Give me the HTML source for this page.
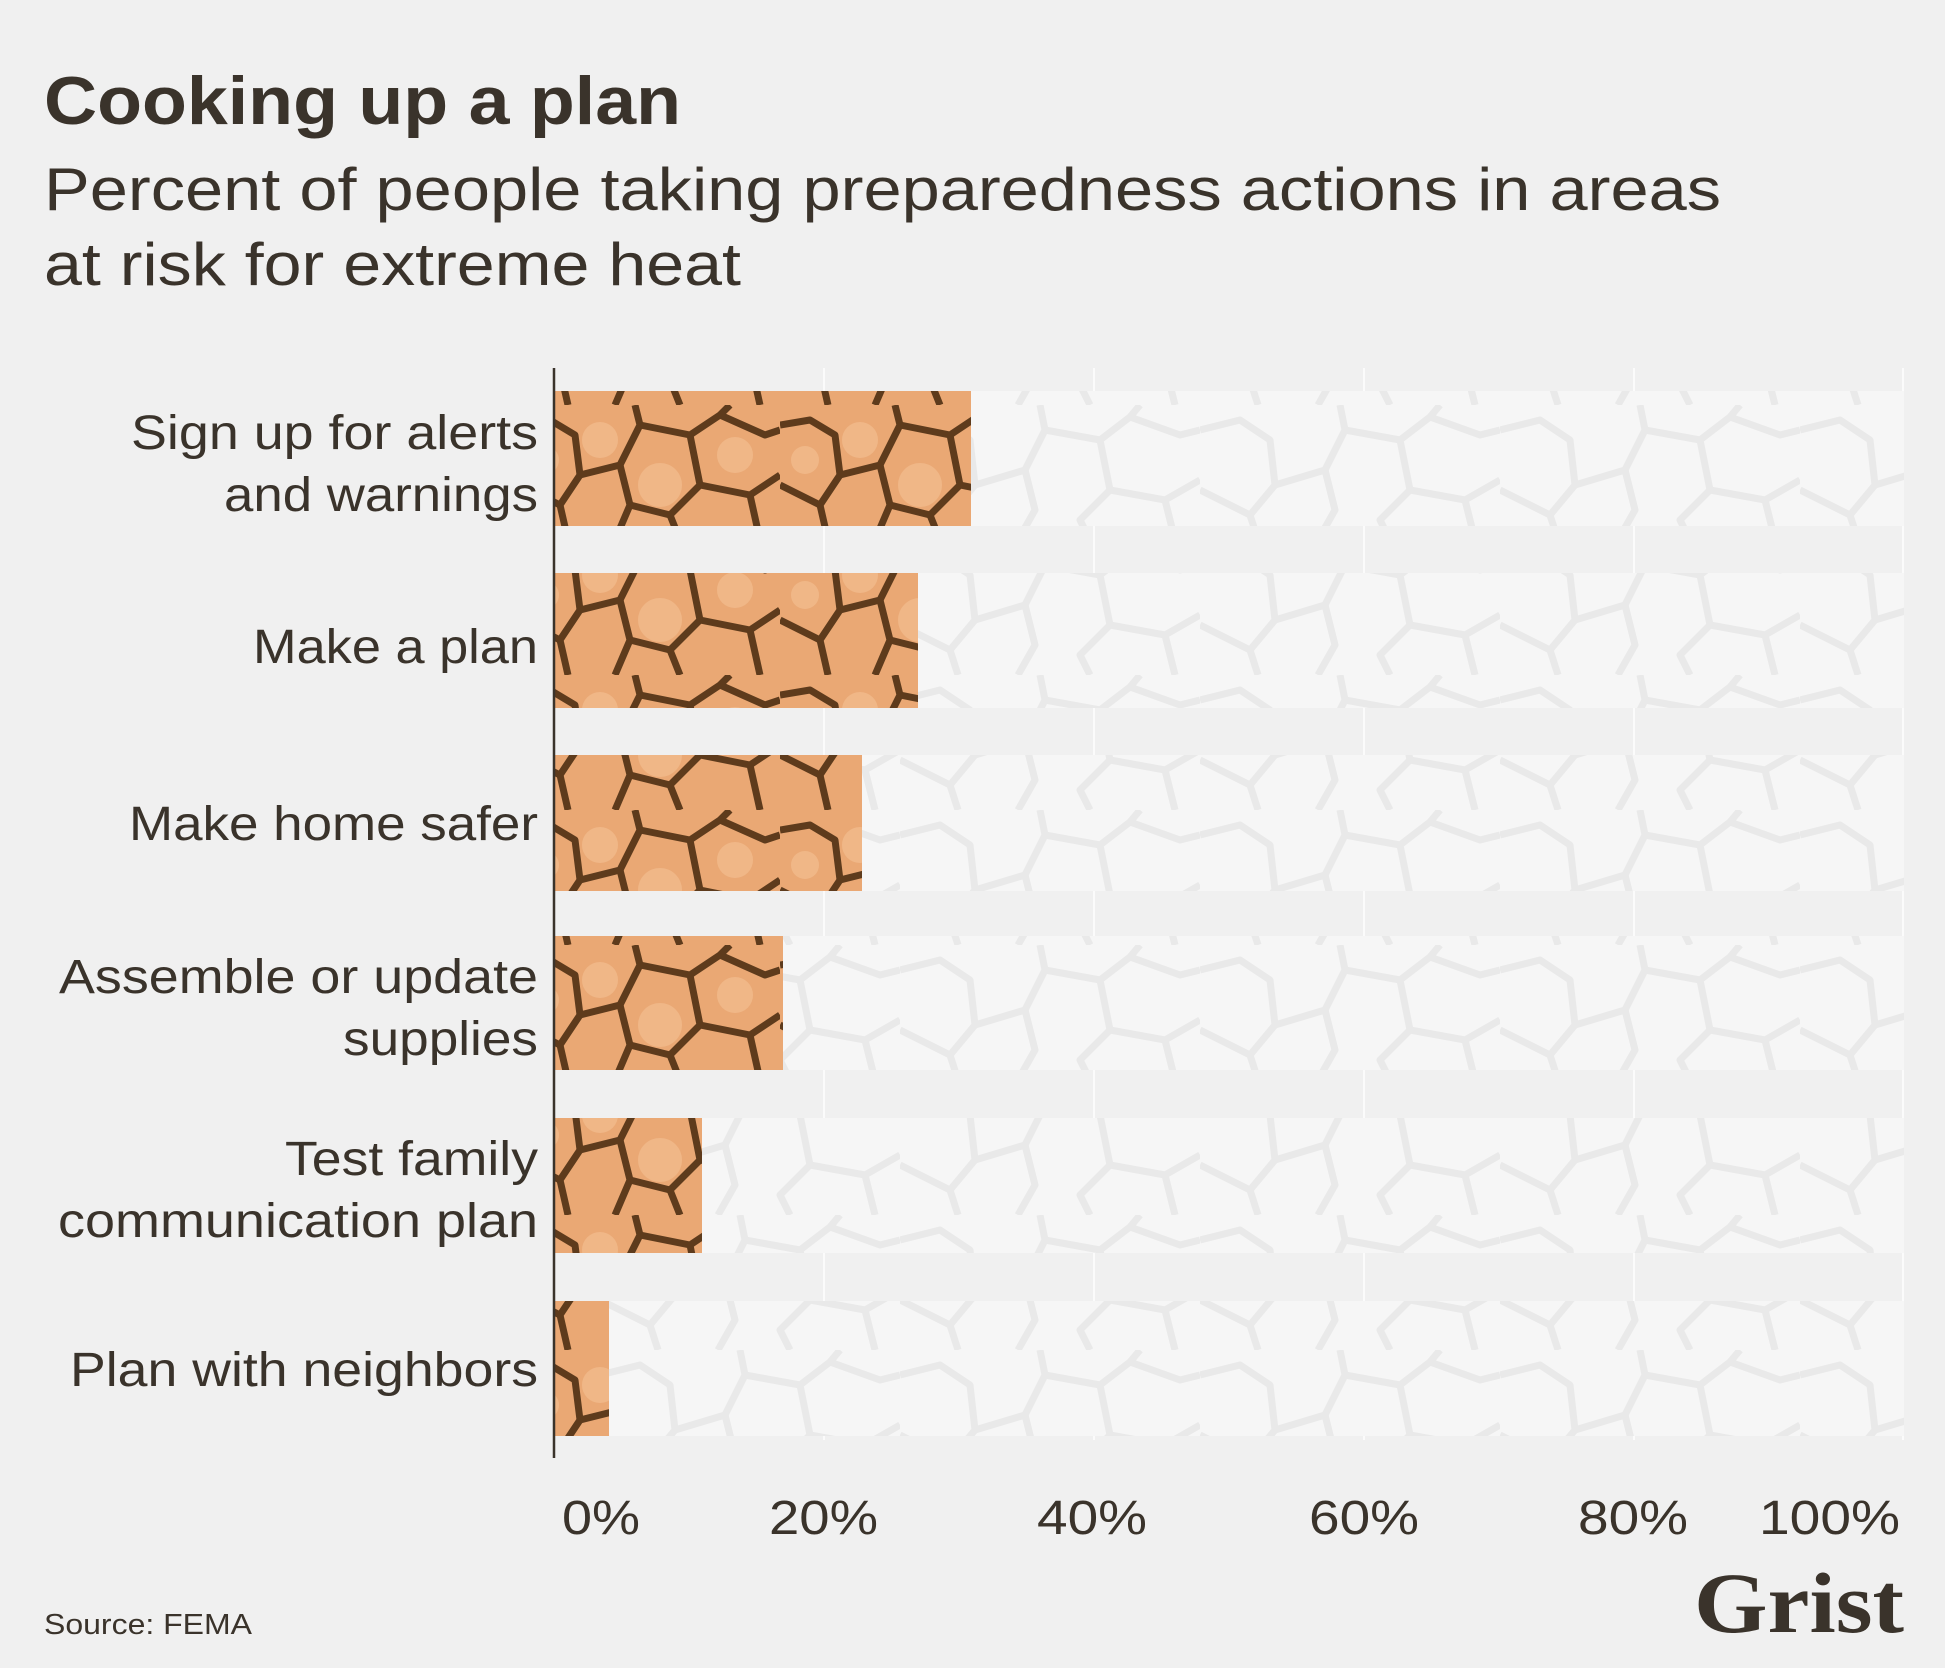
<!DOCTYPE html>
<html><head><meta charset="utf-8"><style>
body{margin:0;background:#f0f0f0;}
svg{display:block}
</style></head><body>
<svg width="1945" height="1668" viewBox="0 0 1945 1668" xmlns="http://www.w3.org/2000/svg" font-family="Liberation Sans, sans-serif">
<defs>
<pattern id="og" width="260" height="135" patternUnits="userSpaceOnUse">
<rect width="260" height="135" fill="#eaa874"/>
<g fill="#f6c69a" opacity="0.5"><circle cx="80" cy="35" r="18"/><circle cx="140" cy="80" r="22"/><circle cx="215" cy="50" r="18"/><circle cx="25" cy="55" r="14"/></g>
<g fill="none" stroke="#5e3b1c" stroke-width="7" stroke-linejoin="round">
<path d="M0 20 L30 15 L55 30 L60 70 L40 100 L48 135"/>
<path d="M60 70 L100 60 L120 20 L115 0"/>
<path d="M100 60 L110 100 L95 135"/>
<path d="M120 20 L170 30 L200 10 L210 0"/>
<path d="M170 30 L180 80 L150 110 L160 135"/>
<path d="M180 80 L230 90 L260 70"/>
<path d="M230 90 L240 135"/>
<path d="M0 80 L40 100"/>
<path d="M110 100 L150 110"/>
<path d="M200 10 L245 30 L260 25"/>
</g>
</pattern>
<pattern id="gr" width="300" height="135" patternUnits="userSpaceOnUse">
<rect width="300" height="135" fill="#f6f6f6"/>
<g fill="none" stroke="#e9e9e9" stroke-width="7" stroke-linejoin="round">
<path d="M0 25 L40 15 L70 35 L75 80 L50 110 L58 135"/>
<path d="M75 80 L125 65 L145 25 L140 0"/>
<path d="M125 65 L135 105 L118 135"/>
<path d="M145 25 L200 35 L230 12 L240 0"/>
<path d="M200 35 L210 85 L180 115 L190 135"/>
<path d="M210 85 L265 95 L300 75"/>
<path d="M265 95 L275 135"/>
<path d="M0 85 L50 110"/>
<path d="M230 12 L280 30 L300 25"/>
</g>
</pattern>
</defs>
<rect width="1945" height="1668" fill="#f0f0f0"/>
<text x="44" y="124" font-size="68" font-weight="bold" fill="#3a332b" textLength="637" lengthAdjust="spacingAndGlyphs">Cooking up a plan</text>
<text x="44" y="210" font-size="60" fill="#3a332b" textLength="1677" lengthAdjust="spacingAndGlyphs">Percent of people taking preparedness actions in areas</text>
<text x="44" y="285" font-size="60" fill="#3a332b" textLength="697" lengthAdjust="spacingAndGlyphs">at risk for extreme heat</text>
<g stroke="#fbfbfb" stroke-width="2">
<line x1="824" y1="368" x2="824" y2="1440"/><line x1="1094" y1="368" x2="1094" y2="1440"/><line x1="1364" y1="368" x2="1364" y2="1440"/><line x1="1634" y1="368" x2="1634" y2="1440"/><line x1="1903" y1="368" x2="1903" y2="1440"/>
</g>
<g>
<rect x="555" y="391" width="1349" height="135" fill="url(#gr)"/>
<rect x="555" y="573" width="1349" height="135" fill="url(#gr)"/>
<rect x="555" y="755" width="1349" height="136" fill="url(#gr)"/>
<rect x="555" y="936" width="1349" height="134" fill="url(#gr)"/>
<rect x="555" y="1118" width="1349" height="135" fill="url(#gr)"/>
<rect x="555" y="1301" width="1349" height="135" fill="url(#gr)"/>
<rect x="555" y="391" width="416" height="135" fill="url(#og)"/>
<rect x="555" y="573" width="363" height="135" fill="url(#og)"/>
<rect x="555" y="755" width="307" height="136" fill="url(#og)"/>
<rect x="555" y="936" width="228" height="134" fill="url(#og)"/>
<rect x="555" y="1118" width="147" height="135" fill="url(#og)"/>
<rect x="555" y="1301" width="54" height="135" fill="url(#og)"/>
</g>
<line x1="554" y1="368" x2="554" y2="1458" stroke="#3a332b" stroke-width="2.5"/>
<g font-size="48" fill="#3a332b" lengthAdjust="spacingAndGlyphs">
<text x="131" y="449" textLength="407" lengthAdjust="spacingAndGlyphs">Sign up for alerts</text>
<text x="224" y="511" textLength="314" lengthAdjust="spacingAndGlyphs">and warnings</text>
<text x="253" y="663" textLength="285" lengthAdjust="spacingAndGlyphs">Make a plan</text>
<text x="129" y="840" textLength="409" lengthAdjust="spacingAndGlyphs">Make home safer</text>
<text x="59" y="993" textLength="479" lengthAdjust="spacingAndGlyphs">Assemble or update</text>
<text x="343" y="1055" textLength="195" lengthAdjust="spacingAndGlyphs">supplies</text>
<text x="285" y="1175" textLength="253" lengthAdjust="spacingAndGlyphs">Test family</text>
<text x="58" y="1237" textLength="480" lengthAdjust="spacingAndGlyphs">communication plan</text>
<text x="70" y="1386" textLength="468" lengthAdjust="spacingAndGlyphs">Plan with neighbors</text>
</g>
<g font-size="48" fill="#3a332b">
<text x="562" y="1534" textLength="78" lengthAdjust="spacingAndGlyphs">0%</text>
<text x="769" y="1534" textLength="109" lengthAdjust="spacingAndGlyphs">20%</text>
<text x="1037" y="1534" textLength="110" lengthAdjust="spacingAndGlyphs">40%</text>
<text x="1309" y="1534" textLength="110" lengthAdjust="spacingAndGlyphs">60%</text>
<text x="1578" y="1534" textLength="110" lengthAdjust="spacingAndGlyphs">80%</text>
<text x="1759" y="1534" textLength="141" lengthAdjust="spacingAndGlyphs">100%</text>
</g>
<text x="44" y="1634" font-size="29" fill="#3a332b" textLength="208" lengthAdjust="spacingAndGlyphs">Source: FEMA</text>
<text x="1694" y="1632" font-size="86" font-weight="bold" font-family="Liberation Serif, serif" fill="#3a332b" textLength="210" lengthAdjust="spacingAndGlyphs">Grist</text>
</svg>
</body></html>
